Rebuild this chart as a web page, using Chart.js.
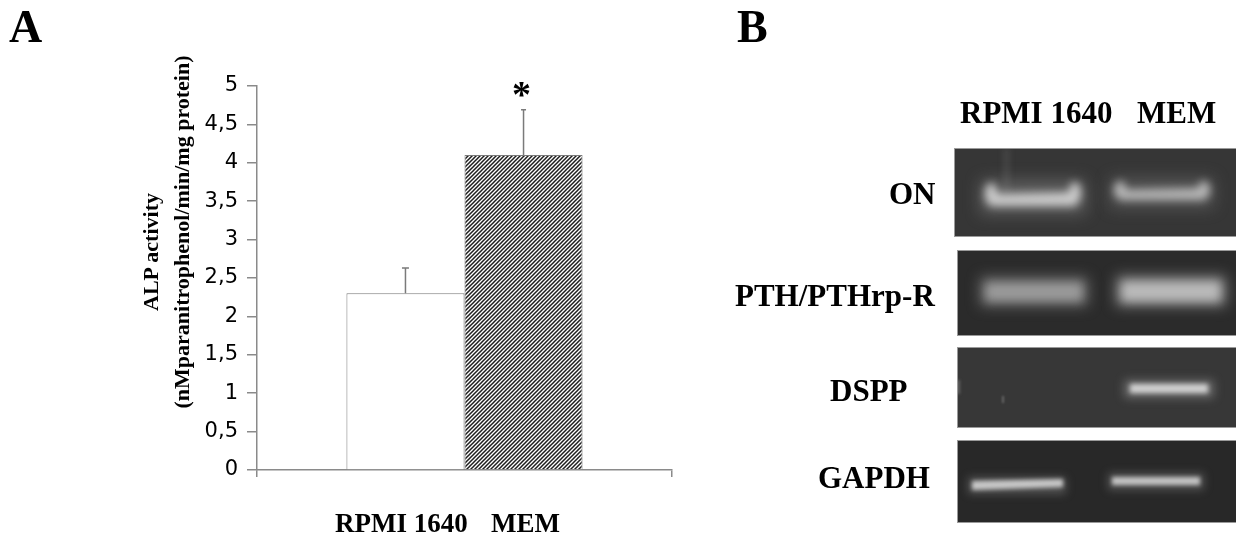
<!DOCTYPE html>
<html>
<head>
<meta charset="utf-8">
<script src="https://cdn.jsdelivr.net/npm/chart.js@4.4.1/dist/chart.umd.min.js"></script>
<style>
  html, body { margin: 0; padding: 0; background: #fff; }
  body { width: 1236px; height: 535px; overflow: hidden; position: relative; font-family: 'Liberation Serif', 'Times New Roman', serif; }
  .t { position: absolute; font-weight: bold; white-space: nowrap; line-height: 1; color: #000; }
  .rot { position: absolute; font-weight: bold; white-space: nowrap; line-height: 1; color: #000; transform: translate(-50%, -50%) rotate(-90deg); }
  #chartBox { position: absolute; left: 0; top: 0; width: 720px; height: 535px; }
  #gel { position: absolute; left: 720px; top: 0; }
</style>
</head>
<body>
<div id="chartBox"><canvas id="c" width="720" height="535"></canvas></div>
<canvas id="gel" width="516" height="535"></canvas>

<div class="t" style="left:9px;top:4px;font-size:46px;">A</div>
<div class="t" style="left:737px;top:4px;font-size:46px;">B</div>

<div class="rot" style="left:151px;top:252px;font-size:22px;">ALP activity</div>
<div class="rot" style="left:182px;top:232px;font-size:22px;">(nMparanitrophenol/min/mg protein)</div>

<div class="t" style="left:960px;top:97px;font-size:31px;">RPMI 1640</div>
<div class="t" style="left:1137px;top:97px;font-size:31px;">MEM</div>

<div class="t" style="left:889px;top:178px;font-size:31px;">ON</div>
<div class="t" style="left:735px;top:280px;font-size:31px;">PTH/PTHrp-R</div>
<div class="t" style="left:830px;top:375px;font-size:31px;">DSPP</div>
<div class="t" style="left:818px;top:462px;font-size:31px;">GAPDH</div>

<script>
// ---------------- data ----------------
const categories = ['ALP activity'];
const groups = ['RPMI 1640', 'MEM'];
const alpMeans = [2.3, 4.1];
const alpErrors = [0.33, 0.59];
const significant = [false, true];
const yMin = 0;
const yMax = 5;
const yStep = 0.5;

// ---------------- styles ----------------
const axisGrey = '#8a8a8a';
const barBorder = '#7a7a7a';

function hatchPattern() {
  const s = 4;
  const pc = document.createElement('canvas');
  pc.width = s; pc.height = s;
  const p = pc.getContext('2d');
  p.fillStyle = '#ffffff';
  p.fillRect(0, 0, s, s);
  p.strokeStyle = '#1e1e1e';
  p.lineWidth = 1.5;
  p.beginPath();
  p.moveTo(-1, s + 1); p.lineTo(s + 1, -1);
  p.moveTo(-1, 1); p.lineTo(1, -1);
  p.moveTo(s - 1, s + 1); p.lineTo(s + 1, s - 1);
  p.stroke();
  return document.getElementById('c').getContext('2d').createPattern(pc, 'repeat');
}

const fills = ['#ffffff', hatchPattern()];

const errorBars = {
  id: 'errorBars',
  afterDatasetsDraw(chart) {
    const ctx = chart.ctx;
    const y = chart.scales.y;
    ctx.save();
    ctx.strokeStyle = '#7a7a7a';
    ctx.lineWidth = 1.5;
    chart.data.datasets.forEach((ds, i) => {
      const el = chart.getDatasetMeta(i).data[0];
      const top = y.getPixelForValue(alpMeans[i] + alpErrors[i]);
      const cap = i === 0 ? 3.5 : 2.5;
      ctx.beginPath();
      ctx.moveTo(el.x, el.y);
      ctx.lineTo(el.x, top);
      ctx.moveTo(el.x - cap, top);
      ctx.lineTo(el.x + cap, top);
      ctx.stroke();
      if (significant[i]) {
        ctx.fillStyle = '#000';
        ctx.font = 'bold 38px "Liberation Serif"';
        ctx.textAlign = 'center';
        ctx.textBaseline = 'alphabetic';
        ctx.fillText('*', el.x - 2, top - 3);
      }
    });
    ctx.restore();
  }
};

const groupLabels = {
  id: 'groupLabels',
  afterDraw(chart) {
    const ctx = chart.ctx;
    ctx.save();
    ctx.fillStyle = '#000';
    ctx.font = 'bold 27px "Liberation Serif"';
    ctx.textAlign = 'center';
    ctx.textBaseline = 'alphabetic';
    chart.data.datasets.forEach((ds, i) => {
      const el = chart.getDatasetMeta(i).data[0];
      ctx.fillText(groups[i], el.x + (i === 0 ? -4 : 2), 532);
    });
    ctx.restore();
  }
};

new Chart(document.getElementById('c'), {
  type: 'bar',
  data: {
    labels: categories,
    datasets: groups.map((g, i) => ({
      label: g,
      data: [alpMeans[i]],
      backgroundColor: fills[i],
      borderColor: barBorder,
      borderWidth: 1,
      barPercentage: 1,
      categoryPercentage: 0.569
    }))
  },
  options: {
    responsive: false,
    animation: false,
    devicePixelRatio: 1,
    layout: { padding: { left: 150, top: 86, right: 48, bottom: 58 } },
    plugins: { legend: { display: false }, tooltip: { enabled: false } },
    scales: {
      x: {
        type: 'category',
        grid: { offset: true, drawOnChartArea: false, drawTicks: true, tickLength: 7, color: axisGrey, lineWidth: 1.5 },
        border: { display: true, color: axisGrey, width: 1.5 },
        ticks: { display: false }
      },
      y: {
        min: yMin,
        max: yMax,
        afterFit(scale) { scale.width = 107; },
        grid: { drawOnChartArea: false, drawTicks: true, tickLength: 10, color: axisGrey, lineWidth: 1.5 },
        border: { display: true, color: axisGrey, width: 1.5 },
        ticks: {
          stepSize: yStep,
          padding: 9,
          color: '#000',
          font: { family: 'DejaVu Sans', size: 21 },
          callback: v => String(v).replace('.', ',')
        }
      }
    }
  },
  plugins: [errorBars, groupLabels]
});

// ---------------- gel image (panel B) ----------------
const g = document.getElementById('gel').getContext('2d');
const panels = [
  { x: 234, y: 148, w: 282, h: 89, bg: '#363636' },
  { x: 237, y: 250, w: 279, h: 86, bg: '#2b2b2b' },
  { x: 237, y: 347, w: 279, h: 81, bg: '#373737' },
  { x: 237, y: 440, w: 279, h: 83, bg: '#282828' }
];

function withPanel(p, fn) {
  g.save();
  g.beginPath();
  g.rect(p.x, p.y, p.w, p.h);
  g.clip();
  g.fillStyle = p.bg;
  g.fillRect(p.x, p.y, p.w, p.h);
  fn();
  g.restore();
  g.save();
  g.strokeStyle = '#9a9a9a';
  g.lineWidth = 1;
  g.strokeRect(p.x + 0.5, p.y + 0.5, p.w, p.h - 1);
  g.restore();
}

function blob(blur, color, draw) {
  g.save();
  g.filter = 'blur(' + blur + 'px)';
  g.fillStyle = color;
  g.beginPath();
  draw();
  g.fill();
  g.restore();
}

function ell(cx, cy, rx, ry) { g.ellipse(cx, cy, rx, ry, 0, 0, Math.PI * 2); }

// ON
withPanel(panels[0], () => {
  blob(3, 'rgba(200,200,200,0.14)', () => g.rect(284, 148, 5, 45));
  blob(8, 'rgba(170,170,170,0.35)', () => g.rect(260, 180, 106, 34));
  blob(4, 'rgba(215,215,215,0.9)', () => { g.rect(270, 192, 86, 14); ell(271, 194, 6, 11); ell(355, 193, 6, 11); });
  blob(8, 'rgba(160,160,160,0.3)', () => g.rect(390, 178, 104, 30));
  blob(4, 'rgba(200,200,200,0.85)', () => { g.rect(400, 188, 84, 12); ell(400, 190, 6, 9); ell(484, 190, 6, 9); });
});

// PTH/PTHrp-R
withPanel(panels[1], () => {
  blob(7, 'rgba(150,150,150,0.6)', () => g.rect(260, 277, 108, 29));
  blob(5, 'rgba(180,180,180,0.65)', () => g.rect(266, 283, 96, 18));
  blob(7, 'rgba(165,165,165,0.7)', () => g.rect(396, 276, 110, 30));
  blob(5, 'rgba(205,205,205,0.75)', () => g.rect(402, 282, 98, 19));
});

// DSPP
withPanel(panels[2], () => {
  blob(1.5, 'rgba(160,160,160,0.4)', () => g.rect(236, 380, 4, 14));
  blob(1, 'rgba(150,150,150,0.5)', () => g.rect(282, 396, 2, 7));
  blob(5, 'rgba(180,180,180,0.4)', () => g.rect(404, 380, 90, 18));
  blob(2.5, 'rgba(215,215,215,0.95)', () => g.rect(410, 384, 78, 9));
});

// GAPDH
withPanel(panels[3], () => {
  blob(4, 'rgba(160,160,160,0.35)', () => g.rect(248, 477, 98, 17));
  blob(2.2, 'rgba(205,205,205,0.95)', () => { g.moveTo(252, 481); g.lineTo(343, 479); g.lineTo(343, 487); g.lineTo(252, 490); g.closePath(); });
  blob(4, 'rgba(160,160,160,0.35)', () => g.rect(388, 473, 96, 17));
  blob(2.2, 'rgba(200,200,200,0.95)', () => g.rect(392, 477, 88, 8));
});
</script>
</body>
</html>
